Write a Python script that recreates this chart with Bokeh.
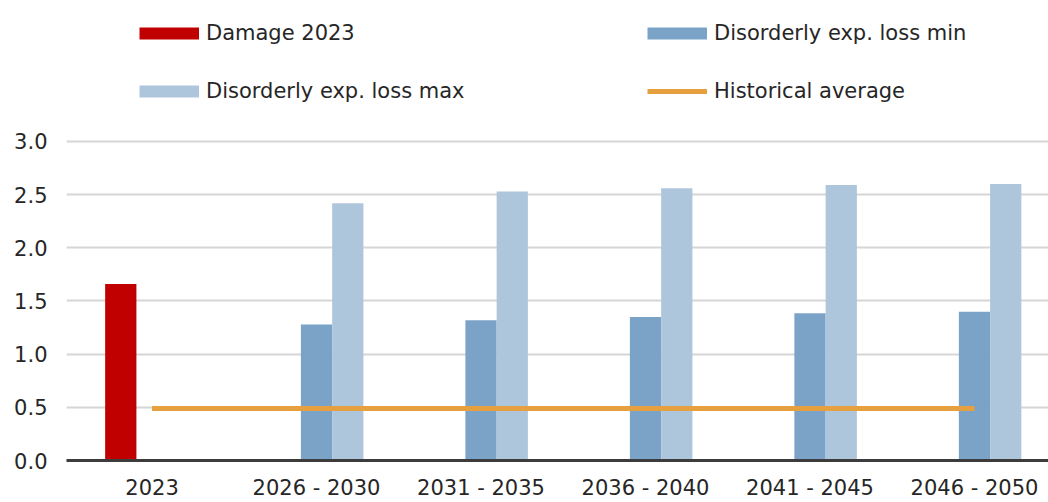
from bokeh.plotting import figure
from bokeh.models import (ColumnDataSource, FixedTicker, Range1d, Legend, LegendItem,
                          PrintfTickFormatter)
from bokeh.transform import dodge
from bokeh.embed import file_html
from bokeh.resources import INLINE

# ---- data ----
categories = ["2023", "2026 - 2030", "2031 - 2035", "2036 - 2040", "2041 - 2045", "2046 - 2050"]
damage_categories = ["2023"]
damage_2023 = [1.66]
loss_categories = ["2026 - 2030", "2031 - 2035", "2036 - 2040", "2041 - 2045", "2046 - 2050"]
loss_min = [1.28, 1.32, 1.35, 1.385, 1.40]
loss_max = [2.42, 2.53, 2.56, 2.59, 2.60]
historical_average = [0.49, 0.49, 0.49, 0.49, 0.49, 0.49]
y_ticks = [0.0, 0.5, 1.0, 1.5, 2.0, 2.5, 3.0]

FONT = "DejaVu Sans"
RED = "#C00000"
MIN_C = "#7BA3C8"
MAX_C = "#AEC6DC"
ORANGE = "#E6A040"

pos = {c: i for i, c in enumerate(categories)}

src_damage = ColumnDataSource(dict(x=[pos[c] for c in damage_categories], top=damage_2023))
src_loss = ColumnDataSource(dict(x=[pos[c] for c in loss_categories], lo=loss_min, hi=loss_max))
src_hist = ColumnDataSource(dict(x=[pos[c] for c in categories], y=historical_average))

# frame extends above the 3.0 line so the legend (inside the frame) is not clipped
p = figure(width=1048, height=502, output_backend="svg", toolbar_location=None,
           x_range=Range1d(-0.52, 5.45), y_range=Range1d(0, 4.326),
           min_border_left=66, min_border_right=0, min_border_top=0, min_border_bottom=42)

W = 0.19
p.vbar(x=dodge("x", -W, range=p.x_range), top="top", width=W, source=src_damage,
       fill_color=RED, line_color=None)
p.vbar(x=dodge("x", 0.0, range=p.x_range), top="lo", width=W, source=src_loss,
       fill_color=MIN_C, line_color=None)
p.vbar(x=dodge("x", W, range=p.x_range), top="hi", width=W, source=src_loss,
       fill_color=MAX_C, line_color=None)
p.line(x="x", y="y", source=src_hist, line_color=ORANGE, line_width=5)

# axes
p.xaxis.ticker = FixedTicker(ticks=list(range(len(categories))))
p.xaxis.major_label_overrides = {i: c for i, c in enumerate(categories)}
p.xaxis.axis_line_color = "#3C3C3C"
p.xaxis.axis_line_width = 3
p.xaxis.major_tick_line_color = None
p.xaxis.minor_tick_line_color = None
p.xaxis.major_tick_out = 0
p.xaxis.minor_tick_out = 0
p.xaxis.major_label_standoff = 15
p.xaxis.major_label_text_font = FONT
p.xaxis.major_label_text_font_size = "21px"
p.xaxis.major_label_text_color = "#262626"

p.yaxis.ticker = FixedTicker(ticks=y_ticks)
p.yaxis.formatter = PrintfTickFormatter(format="%.1f")
p.yaxis.axis_line_color = None
p.yaxis.major_tick_line_color = None
p.yaxis.minor_tick_line_color = None
p.yaxis.major_tick_out = 0
p.yaxis.minor_tick_out = 0
p.yaxis.major_label_standoff = 19
p.yaxis.major_label_text_font = FONT
p.yaxis.major_label_text_font_size = "21px"
p.yaxis.major_label_text_color = "#262626"

p.xgrid.grid_line_color = None
p.ygrid.ticker = FixedTicker(ticks=y_ticks)
p.ygrid.grid_line_color = "#D6D6D6"
p.ygrid.grid_line_width = 2
p.outline_line_color = None

# legend proxies (a single NaN point each: nothing is drawn in the plot itself)
nan = float("nan")
def proxy(color, width):
    src = ColumnDataSource(dict(x=[nan, nan], y=[nan, nan]))
    return p.line(x="x", y="y", source=src, line_color=color, line_width=width, line_cap="butt")

r_dmg = proxy(RED, 12)
r_max = proxy(MAX_C, 12)
r_min = proxy(MIN_C, 12)
r_avg = proxy(ORANGE, 5)

def make_legend(items, loc):
    return Legend(items=items, location=loc, orientation="vertical",
                  glyph_width=60, glyph_height=20, label_height=20, label_standoff=7,
                  spacing=34, padding=0, margin=0,
                  border_line_color=None, background_fill_alpha=0,
                  label_text_font=FONT, label_text_font_size="21px",
                  label_text_color="#262626")

leg1 = make_legend([LegendItem(label="Damage 2023", renderers=[r_dmg]),
                    LegendItem(label="Disorderly exp. loss max", renderers=[r_max])], (73, 357))
leg2 = make_legend([LegendItem(label="Disorderly exp. loss min", renderers=[r_min]),
                    LegendItem(label="Historical average", renderers=[r_avg])], (581, 357))
p.add_layout(leg1, "center")
p.add_layout(leg2, "center")

open("out.html", "w").write(file_html(p, INLINE))
